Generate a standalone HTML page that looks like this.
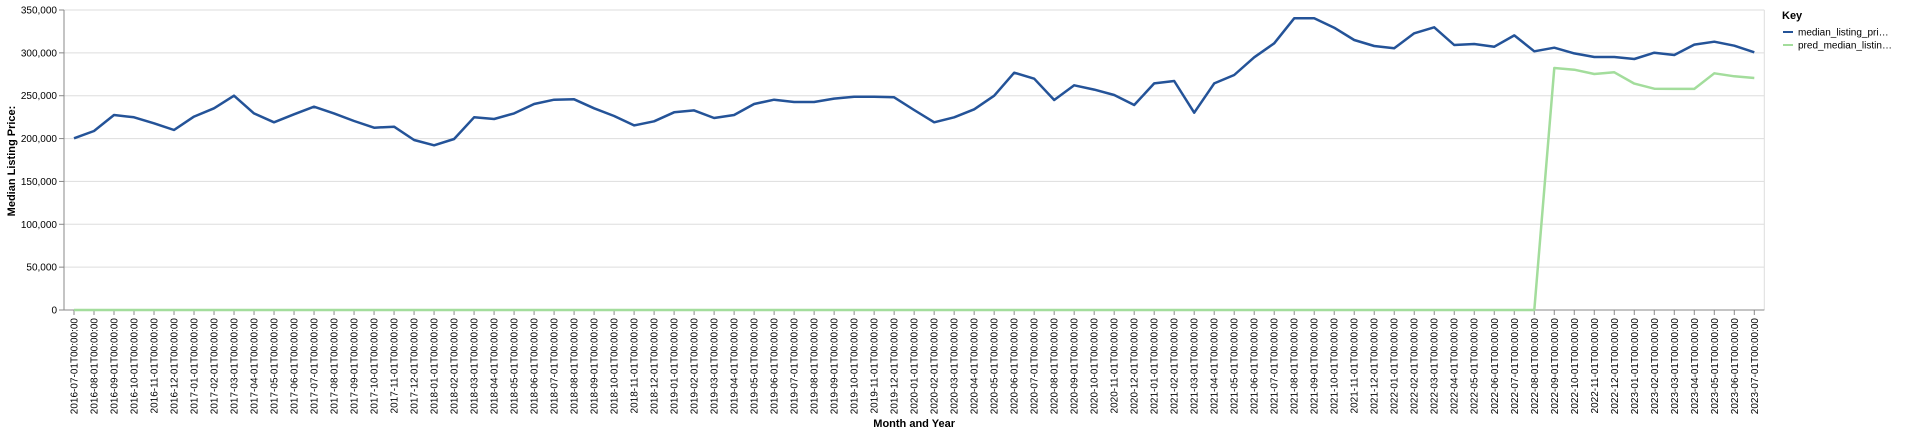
<!DOCTYPE html>
<html><head><meta charset="utf-8"><style>
html,body{margin:0;padding:0;background:#fff;}
svg{display:block;font-family:"Liberation Sans",sans-serif;}
</style></head><body>
<svg id="chart" width="1920" height="434" xmlns="http://www.w3.org/2000/svg"></svg>
<script>
const months = [];
for (let y = 2016, m = 7; !(y === 2023 && m === 8); ) { months.push(y + '-' + String(m).padStart(2,'0') + '-01T00:00:00'); m++; if (m > 12) { m = 1; y++; } }
const actualValues = [200300,208800,227500,224800,217800,210000,225600,235300,250000,229400,219000,228300,237200,229400,220500,212700,213900,198300,192100,199500,224800,222800,229400,240300,245400,245800,235300,226300,215400,220100,230600,232900,224000,227500,240300,245400,242700,242700,246600,248900,248900,248100,233300,219000,224800,234100,250000,276900,269900,245000,262100,257100,250800,239200,264400,267200,230200,264400,274200,294800,311100,340300,340300,329400,315000,308000,305300,322800,329800,309200,310300,307200,320400,301800,306000,299400,295200,295200,292800,300200,297500,309600,313000,308400,300600];
const predValues = [0,0,0,0,0,0,0,0,0,0,0,0,0,0,0,0,0,0,0,0,0,0,0,0,0,0,0,0,0,0,0,0,0,0,0,0,0,0,0,0,0,0,0,0,0,0,0,0,0,0,0,0,0,0,0,0,0,0,0,0,0,0,0,0,0,0,0,0,0,0,0,0,0,0,282300,280400,275300,277300,264100,258200,258000,258000,276100,272600,270700];
const yTicks = [0,50000,100000,150000,200000,250000,300000,350000];
const seriesNames = ['median_listing_pri…','pred_median_listin…'];

const svg = document.getElementById('chart');
const NS = 'http://www.w3.org/2000/svg';
const L = 64, R = 1764.3, T = 10, B = 310;
const step = (R - L) / months.length;
const xs = i => L + step * (i + 0.5);
const ys = v => B - v / 350000 * (B - T);
function mk(tag, attrs, parent) { const e = document.createElementNS(NS, tag); for (const k in attrs) e.setAttribute(k, attrs[k]); (parent || svg).appendChild(e); return e; }

const grid = mk('g', {});


yTicks.forEach(v => {
  const l = mk('line', {x1: L, x2: R, y1: ys(v), y2: ys(v), stroke: '#ddd', 'stroke-width': 1}, grid);
  
  
});
const border = mk('line', {x1: R, x2: R, y1: T, y2: B, stroke: '#ddd'});



const yAxis = mk('g', {});


mk('line', {x1: L, x2: L, y1: T, y2: B, stroke: '#888'}, yAxis);
yTicks.forEach(v => {
  mk('line', {x1: L - 5, x2: L, y1: ys(v), y2: ys(v), stroke: '#888'}, yAxis);
  const t = mk('text', {x: L - 7, y: ys(v) + 3.5, 'text-anchor': 'end', 'font-size': 10, fill: '#000'}, yAxis);
  t.textContent = v.toLocaleString('en-US');
  
  
});
const yt = mk('text', {transform: 'translate(15,161) rotate(-90)', 'text-anchor': 'middle', 'font-size': 11, 'font-weight': 'bold'});
yt.textContent = 'Median Listing Price:';



const xAxis = mk('g', {});


mk('line', {x1: L, x2: R, y1: B, y2: B, stroke: '#888'}, xAxis);
months.forEach((m, i) => {
  mk('line', {x1: xs(i), x2: xs(i), y1: B, y2: B + 5, stroke: '#888'}, xAxis);
  const t = mk('text', {transform: `translate(${xs(i) + 3.5},${B + 8}) rotate(-90)`, 'text-anchor': 'end', 'font-size': 10, fill: '#000'}, xAxis);
  t.textContent = m;
  
  
});
const xt = mk('text', {x: (L + R) / 2, y: 427, 'text-anchor': 'middle', 'font-size': 11, 'font-weight': 'bold'});
xt.textContent = 'Month and Year';



function line(vals, color, name) {
  const d = vals.map((v, i) => (i ? 'L' : 'M') + xs(i).toFixed(1) + ',' + ys(v).toFixed(1)).join('');
  const p = mk('path', {d, fill: 'none', stroke: color, 'stroke-width': 2.5, 'stroke-linejoin': 'round'});
  
  
}
line(predValues, '#a3dd9c', 'pred-median-listing-price-line');
line(actualValues, '#245398', 'median-listing-price-line');

const lg = mk('g', {});


const kt = mk('text', {x: 1782, y: 19, 'font-size': 11, 'font-weight': 'bold'}, lg);
kt.textContent = 'Key';


['#245398', '#a3dd9c'].forEach((c, i) => {
  const g = mk('g', {}, lg);
  
  
  const yy = 32 + i * 13;
  mk('line', {x1: 1783, x2: 1793, y1: yy, y2: yy, stroke: c, 'stroke-width': 2}, g);
  const t = mk('text', {x: 1798, y: yy + 3.5, 'font-size': 10, fill: '#000'}, g);
  t.textContent = seriesNames[i];
});
</script>
</body></html>
